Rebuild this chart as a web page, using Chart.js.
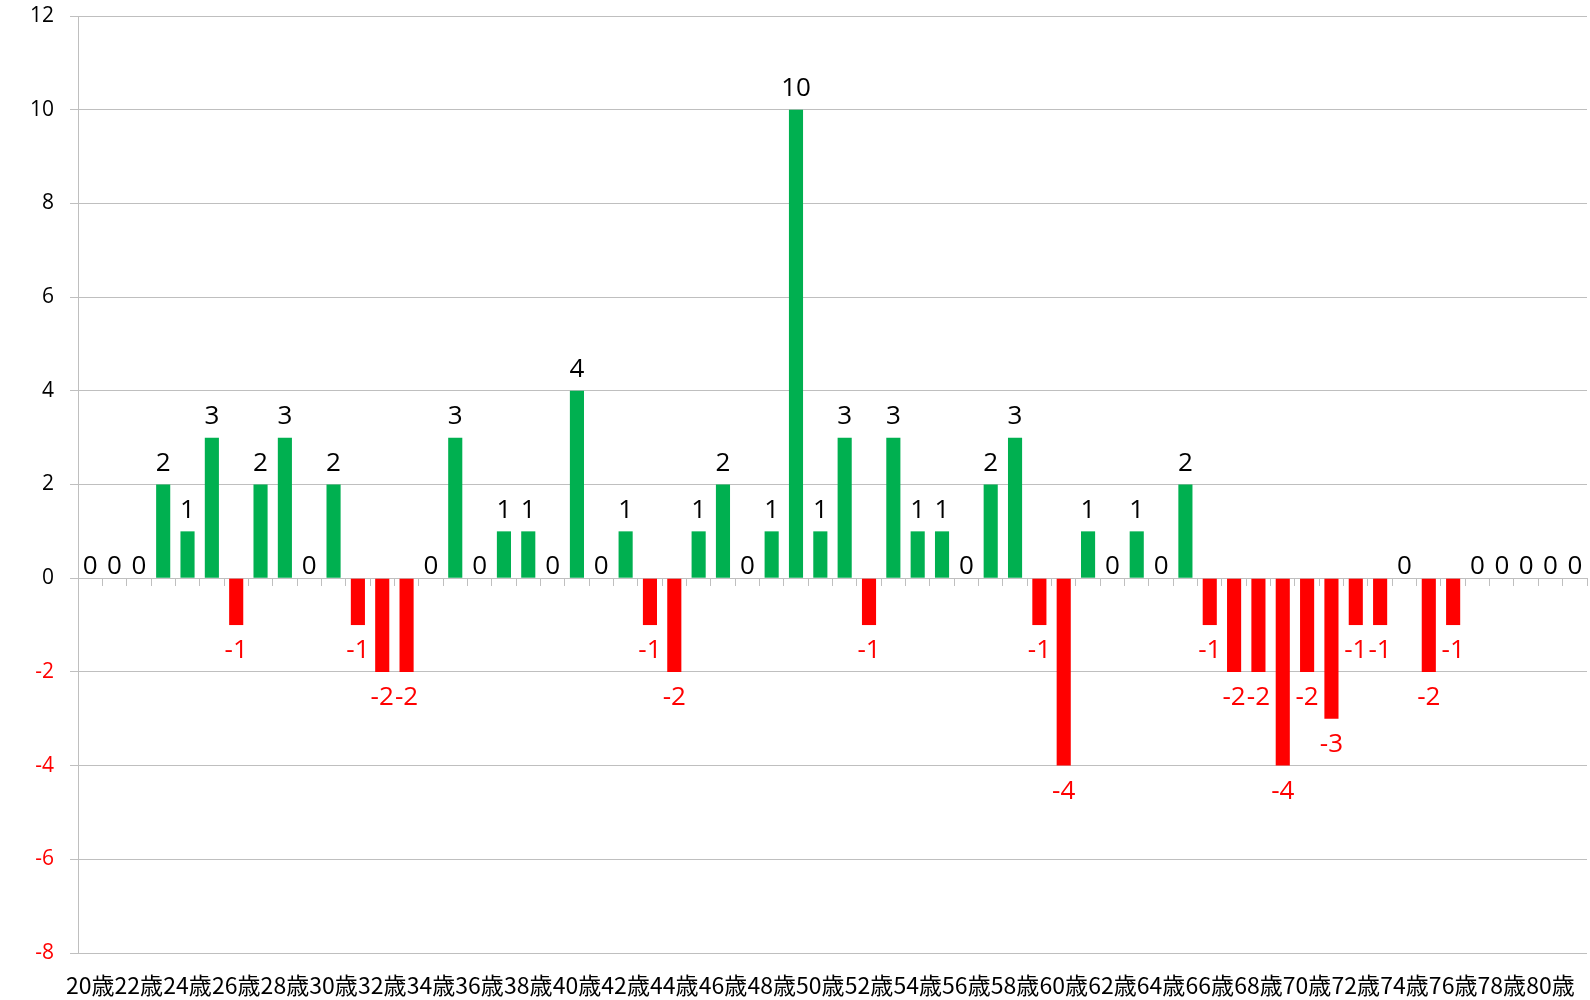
<!DOCTYPE html>
<html>
<head>
<meta charset="utf-8">
<script src="https://cdn.jsdelivr.net/npm/chart.js@4/dist/chart.umd.min.js"></script>
<style>
  html, body { margin: 0; padding: 0; background: #fff; }
  #wrap { width: 1590px; height: 1000px; position: relative; }
</style>
</head>
<body>
<div id="wrap"><canvas id="grafico"></canvas></div>
<script>
const idades = [
  "20歳", "21歳", "22歳", "23歳", "24歳", "25歳", "26歳", "27歳", "28歳", "29歳",
  "30歳", "31歳", "32歳", "33歳", "34歳", "35歳", "36歳", "37歳", "38歳", "39歳",
  "40歳", "41歳", "42歳", "43歳", "44歳", "45歳", "46歳", "47歳", "48歳", "49歳",
  "50歳", "51歳", "52歳", "53歳", "54歳", "55歳", "56歳", "57歳", "58歳", "59歳",
  "60歳", "61歳", "62歳", "63歳", "64歳", "65歳", "66歳", "67歳", "68歳", "69歳",
  "70歳", "71歳", "72歳", "73歳", "74歳", "75歳", "76歳", "77歳", "78歳", "79歳",
  "80歳", "81歳",
];

const valores = [
  0, 0, 0, 2, 1, 3, -1, 2, 3, 0,
  2, -1, -2, -2, 0, 3, 0, 1, 1, 0,
  4, 0, 1, -1, -2, 1, 2, 0, 1, 10,
  1, 3, -1, 3, 1, 1, 0, 2, 3, -1,
  -4, 1, 0, 1, 0, 2, -1, -2, -2, -4,
  -2, -3, -1, -1, 0, -2, -1, 0, 0, 0,
  0, 0,
];

const escalaY = { min: -8, max: 12, passo: 2 };

const verde = "#00B050";
const vermelho = "#FF0000";
const cinza = "#BFBFBF";

// rótulos de dados em cima / embaixo das barras
const rotulos = {
  id: "rotulos",
  afterDatasetsDraw(chart) {
    const ctx = chart.ctx;
    const meta = chart.getDatasetMeta(0);
    ctx.save();
    ctx.font = "26px 'Open Sans'";
    ctx.textAlign = "center";
    meta.data.forEach((barra, i) => {
      const v = valores[i];
      if (v > 0) {
        ctx.fillStyle = "#000";
        ctx.textBaseline = "bottom";
        ctx.fillText(String(v), barra.x, barra.y - 8);
      } else if (v === 0) {
        ctx.fillStyle = "#000";
        ctx.textBaseline = "bottom";
        ctx.fillText(String(v), barra.x, barra.y + 1);
      } else {
        ctx.fillStyle = vermelho;
        ctx.textBaseline = "top";
        ctx.fillText(String(v), barra.x, barra.y + 13);
      }
    });
    ctx.restore();
  },
};

const grafico = new Chart(document.getElementById("grafico"), {
  type: "bar",
  data: {
    labels: idades,
    datasets: [
      {
        label: "増減",
        data: valores,
        backgroundColor: valores.map((v) => (v < 0 ? vermelho : verde)),
        categoryPercentage: 1,
        barPercentage: 0.58,
        borderWidth: 0,
      },
    ],
  },
  options: {
    responsive: true,
    maintainAspectRatio: false,
    animation: false,
    layout: { padding: { top: 0, right: 3 } },
    plugins: {
      legend: { display: false },
      tooltip: { enabled: false },
    },
    scales: {
      x: {
        position: "bottom",
        offset: true,
        grid: { display: false },
        border: { display: false },
        ticks: {
          autoSkip: false,
          maxRotation: 0,
          minRotation: 0,
          padding: 10,
          color: "#000",
          font: { size: 23, family: "'Noto Sans CJK JP'" },
          callback: function (val, idx) {
            return idx % 2 === 0 ? this.getLabelForValue(val) : "";
          },
        },
        afterFit(scale) {
          scale.height = 47;
        },
      },
      zero: {
        type: "category",
        axis: "x",
        position: { y: 0 },
        offset: true,
        grid: {
          offset: true,
          drawOnChartArea: false,
          drawTicks: true,
          tickLength: 7,
          color: cinza,
        },
        border: { display: true, color: cinza },
        ticks: { display: false },
      },
      y: {
        min: escalaY.min,
        max: escalaY.max,
        grid: { color: cinza, tickLength: 8 },
        border: { display: true, color: cinza },
        ticks: {
          stepSize: escalaY.passo,
          padding: 16,
          font: { size: 21, family: "'Open Sans'" },
          color: (c) => (c.tick && c.tick.value < 0 ? vermelho : "#000"),
        },
        afterFit(scale) {
          scale.width = 78;
          scale.paddingTop = 16;
        },
      },
    },
  },
  plugins: [rotulos],
});
</script>
</body>
</html>
